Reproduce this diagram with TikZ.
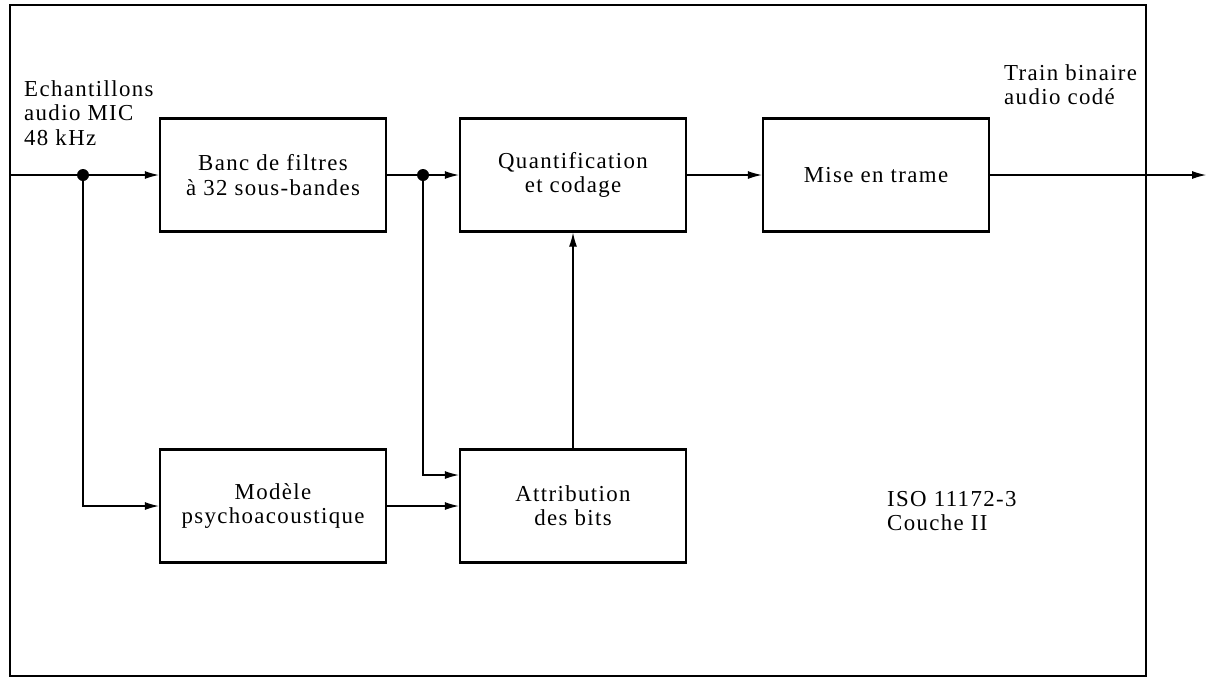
\documentclass[tikz,border=0pt]{standalone}
\usepackage{fontspec}
\setmainfont{Liberation Serif}[LetterSpace=6]
\usepackage{tikz}
\usetikzlibrary{arrows.meta,positioning}

\begin{document}
\begin{tikzpicture}[
    every node/.style={font=\fontsize{13}{13.8}\selectfont},
    box/.style={draw=black, line width=1.4pt, minimum width=4.52cm, minimum height=2.26cm, align=center},
    lbl/.style={align=left, anchor=west},
    dot/.style={circle, fill=black, inner sep=0pt, minimum size=0.24cm},
    arr/.style={-{Latex[length=2.8mm,width=1.6mm]}, line width=0.6pt, black},
    ln/.style={line width=0.6pt, black}
  ]
    \useasboundingbox (0,0) rectangle (24.16,-13.62);
    % frame
    \draw[line width=1.1pt] (0.2,-0.1) rectangle (22.92,-13.52);
    \node[box] (banc) at (5.46,-3.5) {Banc de filtres\\à 32 sous-bandes};
    \node[box] (quant) at (11.46,-3.5) {Quantification\\et codage};
    \node[box] (mise) at (17.52,-3.5) {Mise en trame};
    \node[box] (modele) at (5.46,-10.12) {Modèle\\psychoacoustique};
    \node[box] (attrib) at (11.46,-10.12) {Attribution\\des bits};
    \node[dot] (d1) at (1.66,-3.5) {};
    \node[dot] (d2) at (8.46,-3.5) {};
    \coordinate (in) at (0.2,-3.5);
    \coordinate (out) at (24.12,-3.5);
    \node[lbl] (ech) at (0.36,-2.26) {Echantillons\\audio MIC\\48 kHz};
    \node[lbl] (train) at (19.96,-1.7) {Train binaire\\audio codé};
    \node[lbl] (iso) at (17.62,-10.22) {ISO 11172-3\\Couche II};
    \draw[ln] (in) -- (d1);
    \draw[arr] (d1) -- (banc);
    \draw[ln] (banc) -- (d2);
    \draw[arr] (d2) -- (quant);
    \draw[arr] (quant) -- (mise);
    \draw[arr] (mise) -- (out);
    \draw[arr] (d1) |- (modele);
    \draw[arr] (d2) |- ([yshift=0.62cm]attrib.west);
    \draw[arr] (modele) -- (attrib);
    \draw[arr] (attrib) -- (quant);
  \end{tikzpicture}
\end{document}
